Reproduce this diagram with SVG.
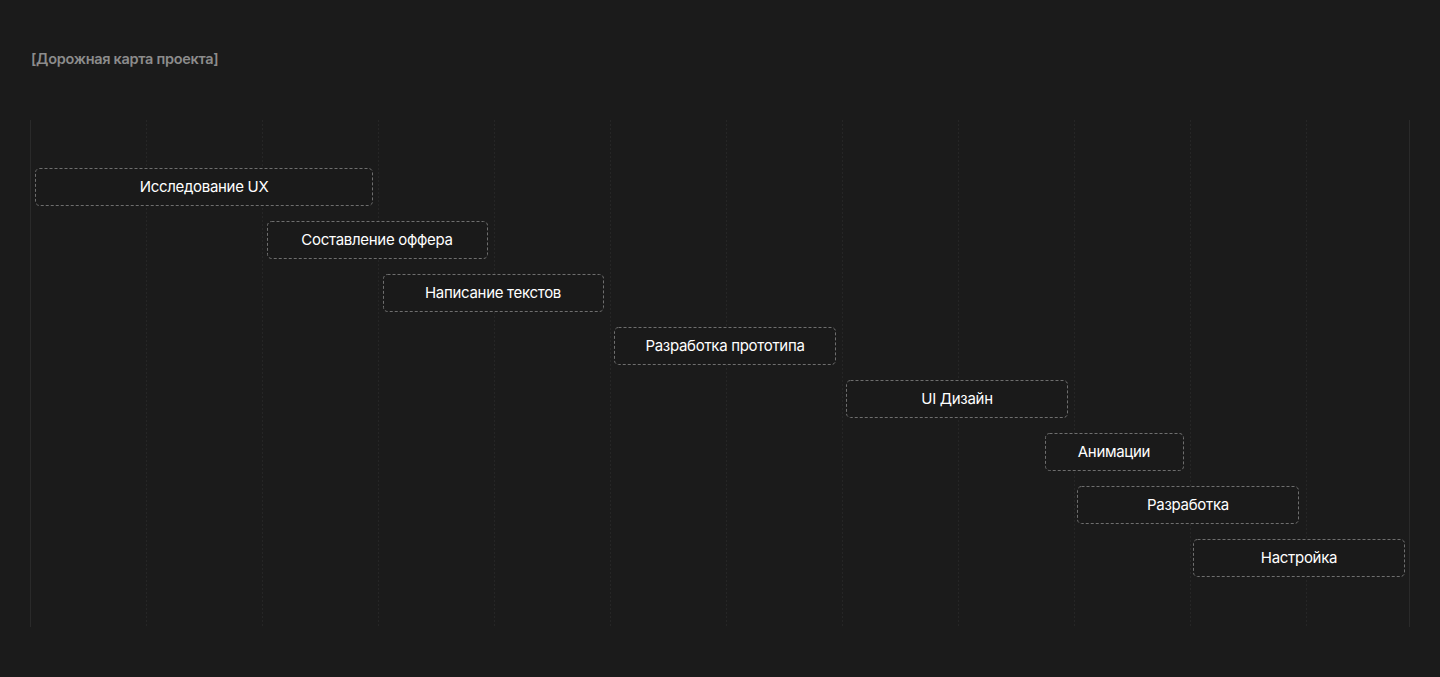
<svg xmlns="http://www.w3.org/2000/svg" width="1440" height="677" viewBox="0 0 1440 677">
<style>
.bg{fill:#1b1b1b}
.grid{stroke:#262626;stroke-width:1;stroke-dasharray:2 2}
.edge{stroke:#2a2a2a;stroke-width:1}
.node rect{fill:#1a1a1a;stroke:#6e6e6e;stroke-width:1;stroke-dasharray:3 2}
.node text{fill:#ffffff;font-family:Inter,"Noto Sans","Liberation Sans",sans-serif;font-size:15px;letter-spacing:-0.3px;text-anchor:middle;dominant-baseline:central}
.title{fill:#8c8c8c;font-family:Inter,"Noto Sans","Liberation Sans",sans-serif;font-size:14.5px;letter-spacing:-0.3px;font-weight:600}
</style>
<rect class="bg" x="0" y="0" width="1440" height="677"/>
<text class="title" x="31" y="64">[Дорожная карта проекта]</text>
<g id="grid">
<line class="edge" x1="30.5" y1="120" x2="30.5" y2="627"/>
<line class="grid" x1="146.5" y1="120" x2="146.5" y2="627"/>
<line class="grid" x1="262.5" y1="120" x2="262.5" y2="627"/>
<line class="grid" x1="378.5" y1="120" x2="378.5" y2="627"/>
<line class="grid" x1="494.5" y1="120" x2="494.5" y2="627"/>
<line class="grid" x1="610.5" y1="120" x2="610.5" y2="627"/>
<line class="grid" x1="726.5" y1="120" x2="726.5" y2="627"/>
<line class="grid" x1="842.5" y1="120" x2="842.5" y2="627"/>
<line class="grid" x1="958.5" y1="120" x2="958.5" y2="627"/>
<line class="grid" x1="1074.5" y1="120" x2="1074.5" y2="627"/>
<line class="grid" x1="1190.5" y1="120" x2="1190.5" y2="627"/>
<line class="grid" x1="1306.5" y1="120" x2="1306.5" y2="627"/>
<line class="edge" x1="1409.5" y1="120" x2="1409.5" y2="627"/>
</g>
<g id="connectors"></g>
<g id="n1" class="node"><rect x="35.5" y="168.5" width="337" height="37" rx="4"/><text x="204" y="186">Исследование UX</text></g>
<g id="n2" class="node"><rect x="267.5" y="221.5" width="220" height="37" rx="4"/><text x="377" y="239">Составление оффера</text></g>
<g id="n3" class="node"><rect x="383.5" y="274.5" width="220" height="37" rx="4"/><text x="493" y="292">Написание текстов</text></g>
<g id="n4" class="node"><rect x="614.5" y="327.5" width="221" height="37" rx="4"/><text x="725" y="345">Разработка прототипа</text></g>
<g id="n5" class="node"><rect x="846.5" y="380.5" width="221" height="37" rx="4"/><text x="957" y="398">UI Дизайн</text></g>
<g id="n6" class="node"><rect x="1045.5" y="433.5" width="138" height="37" rx="4"/><text x="1114" y="451">Анимации</text></g>
<g id="n7" class="node"><rect x="1077.5" y="486.5" width="221" height="37" rx="4"/><text x="1188" y="504">Разработка</text></g>
<g id="n8" class="node"><rect x="1193.5" y="539.5" width="211" height="37" rx="4"/><text x="1299" y="557">Настройка</text></g>
</svg>
